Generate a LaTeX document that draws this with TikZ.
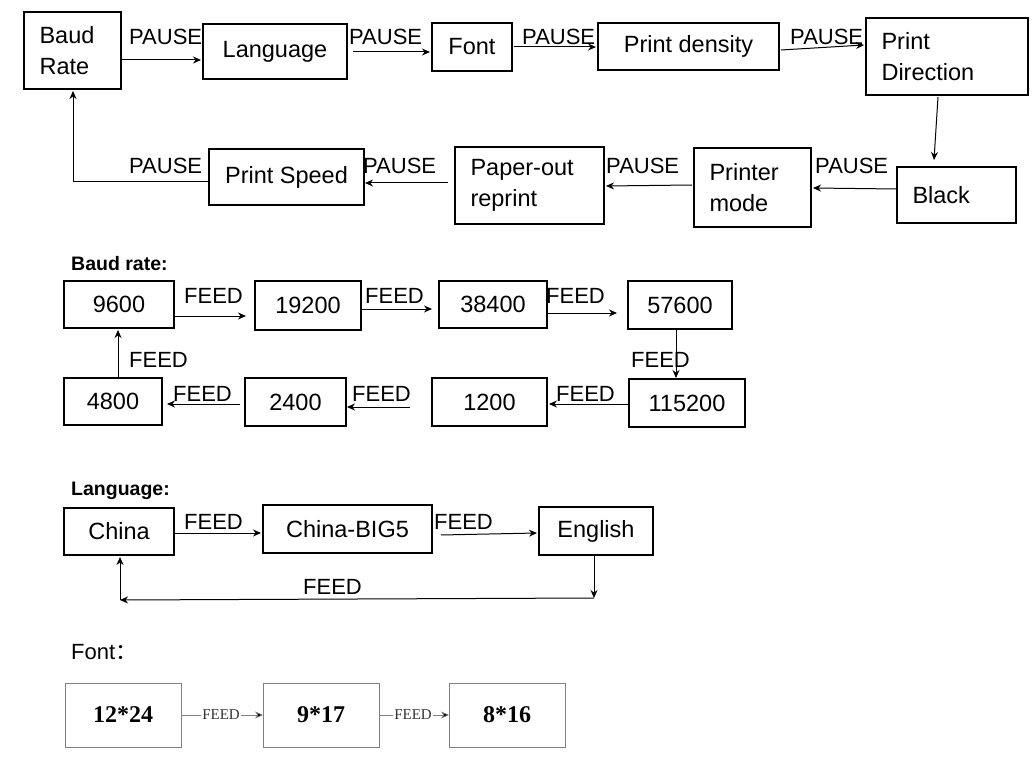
\documentclass[tikz,border=0pt]{standalone}
\usepackage{fontspec}
\setmainfont{Liberation Sans}
\newfontfamily\tnr{Liberation Serif}
\newfontfamily\cjk{Noto Sans CJK SC}
\usetikzlibrary{arrows.meta}
\begin{document}
\begin{tikzpicture}[x=1pt,y=-1pt,
 bx/.style={draw,line width=1.1pt,inner sep=0pt},
 ar/.style={-{Stealth[length=8pt,width=7pt]},line width=1pt},
 lb/.style={anchor=west,inner sep=0pt,font=\fontsize{22}{26}\selectfont},
 tx/.style={font=\fontsize{23.5}{31}\selectfont,align=left},
 fb/.style={draw=gray,line width=0.6pt},
 far/.style={-{Stealth[length=8pt,width=7pt,fill=black]},line width=0.6pt,draw=gray}]
\useasboundingbox (0,0) rectangle (1034,762);
\def\B#1#2#3#4#5#6{\draw[bx] (#2,#3) rectangle (#4,#5); \node[tx,anchor=west] (#1) at (#2+12,{(#3+#5)/2}) {#6};}
\def\C#1#2#3#4#5#6{\draw[bx] (#2,#3) rectangle (#4,#5); \node[tx] (#1) at ({(#2+#4)/2},{(#3+#5)/2}) {#6};}
% row 1
\B{a}{24}{12}{121}{89}{Baud\\Rate}
\C{b}{203}{24}{347}{79}{Language}
\C{c}{432}{23}{512}{71}{Font}
\C{d}{598}{23}{779}{70}{Print density}
\B{e}{866}{18}{1028}{95}{Print\\Direction}
\B{f}{897}{167}{1016}{223}{Black}
\B{g}{694}{148}{811}{227}{Printer\\mode}
\B{h}{455}{147}{604}{224}{Paper-out\\reprint}
\C{i}{209}{149}{364}{205}{Print Speed}
\coordinate (p1) at (121,60); \coordinate (p2) at (201,60);
\draw[ar] (p1) -- (p2);
\coordinate (p3) at (353,52); \coordinate (p4) at (430,52); \draw[ar] (p3) -- (p4);
\coordinate (p5) at (514,47); \coordinate (p6) at (596,47); \draw[ar] (p5) -- (p6);
\coordinate (p7) at (781,50); \coordinate (p8) at (864,45); \draw[ar] (p7) -- (p8);
\coordinate (p9) at (938,97); \coordinate (p10) at (934,160); \draw[ar] (p9) -- (p10);
\coordinate (q1) at (897,189); \coordinate (q2) at (813,188); \draw[ar] (q1) -- (q2);
\coordinate (q3) at (692,185); \coordinate (q4) at (606,186); \draw[ar] (q3) -- (q4);
\coordinate (q5) at (448,183); \coordinate (q6) at (365,183); \draw[ar] (q5) -- (q6);
\coordinate (q7) at (209,182); \coordinate (q8) at (73,182); \coordinate (q9) at (73,91);
\draw[ar] (q7) -- (q8) -- (q9);
\foreach \x/\y in {129/37,349/37,522/37,790/37,129/166,363/166,606/166,815/166}
 \node[lb] at (\x,\y) {PAUSE};
% baud
\node[lb,font=\fontsize{19.5}{22}\selectfont\bfseries] at (71,264) {Baud rate:};
\C{r1}{64}{281}{174}{328}{9600}
\C{r2}{255}{281}{361}{330}{19200}
\C{r3}{439}{281}{547}{328}{38400}
\C{r4}{628}{281}{732}{329}{57600}
\C{r5}{629}{379}{745}{427}{115200}
\C{r6}{432}{378}{547}{426}{1200}
\C{r7}{245}{378}{346}{426}{2400}
\C{r8}{64}{378}{162}{425}{4800}
\coordinate (s1) at (174,316); \coordinate (s2) at (246,316); \draw[ar] (s1)--(s2);
\coordinate (s3) at (361,309); \coordinate (s4) at (432,309); \draw[ar] (s3)--(s4);
\coordinate (s5) at (547,313); \coordinate (s6) at (617,313); \draw[ar] (s5)--(s6);
\coordinate (s7) at (676,329); \coordinate (s8) at (676,378); \draw[ar] (s7)--(s8);
\coordinate (s9) at (629,404); \coordinate (s10) at (549,404); \draw[ar] (s9)--(s10);
\coordinate (t1) at (410,407); \coordinate (t2) at (347,407); \draw[ar] (t1)--(t2);
\coordinate (t3) at (240,404); \coordinate (t4) at (167,404); \draw[ar] (t3)--(t4);
\coordinate (t5) at (118,378); \coordinate (t6) at (118,330); \draw[ar] (t5)--(t6);
\foreach \x/\y in {184/296,365/296,546/296,631/360,129/360,173/394,352/394,556/394}
 \node[lb] at (\x,\y) {FEED};
% language
\node[lb,font=\fontsize{19.5}{22}\selectfont\bfseries] at (71,491) {Language:};
\C{l1}{64}{508}{174}{555}{China}
\C{l2}{263}{505}{432}{553}{China-BIG5}
\C{l3}{539}{507}{653}{555}{English}
\coordinate (u1) at (174,533); \coordinate (u2) at (261,533); \draw[ar] (u1)--(u2);
\coordinate (u3) at (441,535); \coordinate (u4) at (537,533); \draw[ar] (u3)--(u4);
\coordinate (u5) at (594,555); \coordinate (u6) at (594,598); \draw[ar] (u5)--(u6);
\coordinate (u7) at (594,598); \coordinate (u8) at (120,600); \draw[ar] (u7)--(u8);
\coordinate (u9) at (120,600); \coordinate (u10) at (120,557); \draw[ar] (u9)--(u10);
\node[lb] at (184,522) {FEED};
\node[lb] at (434,522) {FEED};
\node[lb] at (303,587) {FEED};
% font
\node[lb] at (71,652) {Font{\cjk ：}};
\foreach \n/\x/\t in {v1/65/12*24,v2/263/9*17,v3/449/8*16}{
 \draw[fb] (\x,683) rectangle (\x+116,747);
 \node[font=\tnr\bfseries\fontsize{24}{28}\selectfont] (\n) at (\x+58,715) {\t};}
\coordinate (w1) at (181,715); \coordinate (w2) at (263,715);
\coordinate (w3) at (379,715); \coordinate (w4) at (449,715);
\draw[far] (w1)--(w2); \draw[far] (w3)--(w4);
\node[fill=white,inner sep=1pt,font=\tnr\fontsize{15}{17}\selectfont,text=black!80] at (221,715) {FEED};
\node[fill=white,inner sep=1pt,font=\tnr\fontsize{15}{17}\selectfont,text=black!80] at (413,715) {FEED};
\end{tikzpicture}
\end{document}
